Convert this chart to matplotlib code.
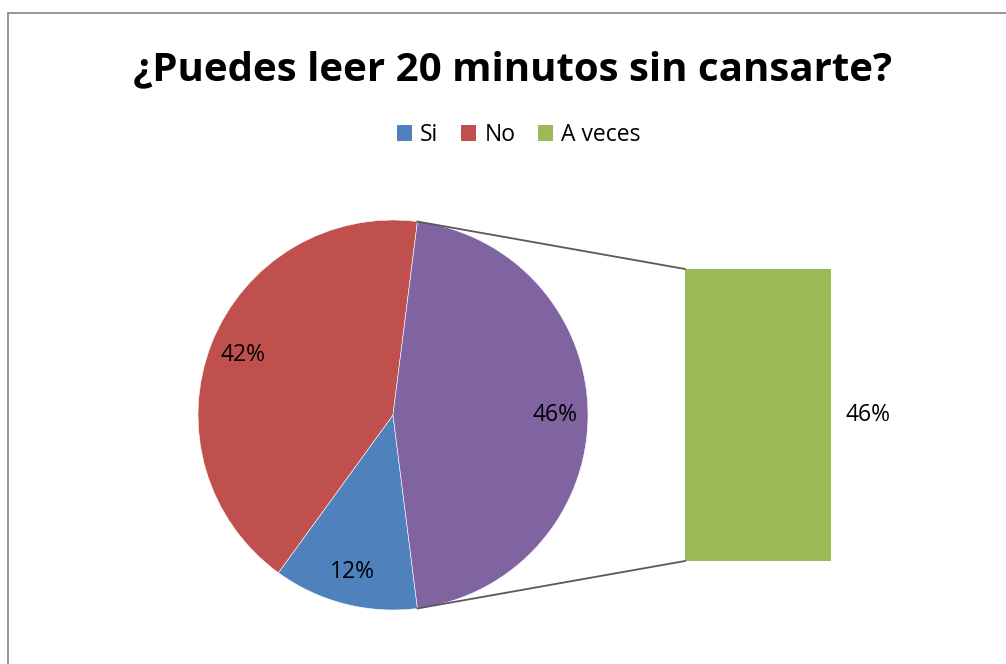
import numpy as np
import matplotlib.pyplot as plt
from matplotlib.patches import Patch, Rectangle

# data
categories = ["Si", "No", "A veces"]
values = [12, 42, 46]
pie_labels = ["12%", "42%", "46%"]
bar_label = "46%"

colors = {"Si": "#4F81BD", "No": "#C0504D", "A veces": "#9BBB59", "Otro": "#8064A2"}

plt.rcParams['font.family'] = ['Open Sans', 'DejaVu Sans']

fig = plt.figure(figsize=(10.06, 6.64), dpi=100)
ax = fig.add_axes([0, 0, 1, 1])

# pie: Si and No shown, A veces goes into "other" slice
cx, cy, r = 393, 249, 195
start = 277.2
wedges, _ = ax.pie(values, startangle=start, counterclock=False, center=(cx, cy), radius=r,
                   colors=[colors["Si"], colors["No"], colors["Otro"]],
                   wedgeprops=dict(edgecolor='white', linewidth=0.4), frame=True)
ax.set_xlim(0, 1006)
ax.set_ylim(0, 664)
ax.set_aspect('equal')
ax.axis('off')

# chart frame
ax.add_patch(Rectangle((8.5, -5), 1010, 664 - 12.5 + 5, fill=False, edgecolor='#8c8c8c', lw=1.3))

total = sum(values)
ang = start
for v, lab in zip(values, pie_labels):
    span = 360 * v / total
    mid = np.deg2rad(ang - span / 2)
    ang -= span
    ax.text(cx + 0.83 * r * np.cos(mid), cy + 0.83 * r * np.sin(mid), lab,
            ha='center', va='center', fontsize=16.5, color='black')

# bar of the "other" slice
bar_left, bar_w = 685, 146
bar_bottom, bar_h = 103, 292
ax.bar(bar_left + bar_w / 2, bar_h * values[2] / values[2], width=bar_w, bottom=bar_bottom,
       color=colors["A veces"], edgecolor='none')
ax.text(868, 249, bar_label, ha='center', va='center', fontsize=16.5, color='black')

# connector lines
other_span = 360 * values[2] / total
a_top = np.deg2rad(other_span / 2)
a_bot = np.deg2rad(-other_span / 2)
ax.plot([cx + r * np.cos(a_top), bar_left], [cy + r * np.sin(a_top), bar_bottom + bar_h],
        color='#595959', lw=1.3)
ax.plot([cx + r * np.cos(a_bot), bar_left], [cy + r * np.sin(a_bot), bar_bottom],
        color='#595959', lw=1.3)

# title and legend
ax.text(513, 664 - 70, "¿Puedes leer 20 minutos sin cansarte?", ha='center', va='center',
        fontsize=29, fontweight='bold', color='black')
handles = [Patch(facecolor=colors[c], edgecolor='none') for c in categories]
fig.legend(handles, categories, loc='center', bbox_to_anchor=(519 / 1006, 1 - 135 / 664),
           ncol=3, frameon=False, fontsize=16.5, handlelength=0.65, handleheight=0.65,
           handletextpad=0.35, columnspacing=1.0)

fig.savefig("out.png", dpi=100)
